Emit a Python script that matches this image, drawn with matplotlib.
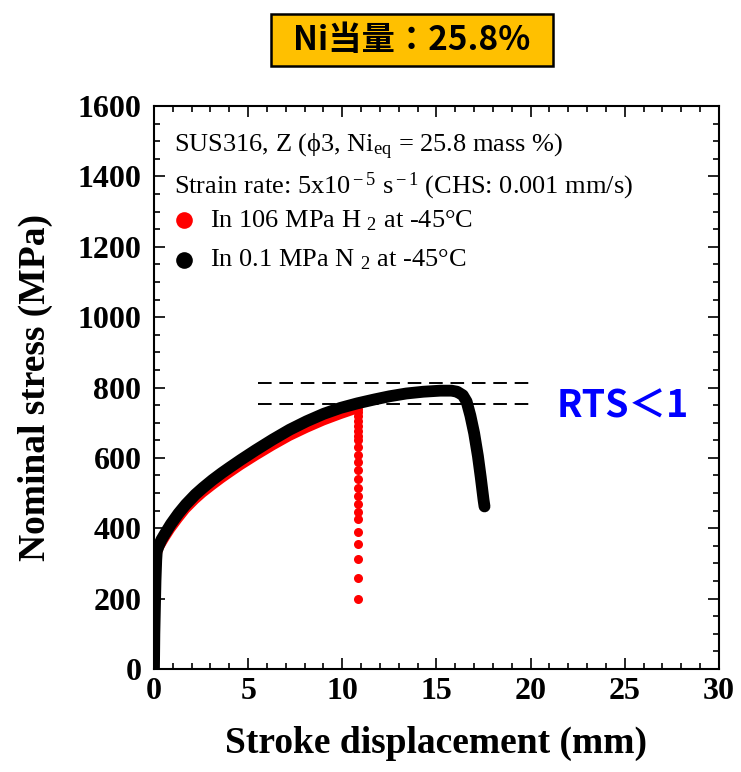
import matplotlib.pyplot as plt
from matplotlib.ticker import MultipleLocator
from matplotlib.patches import Rectangle

plt.rcParams['mathtext.fontset'] = 'custom'
plt.rcParams['mathtext.rm'] = 'Liberation Serif'
plt.rcParams['mathtext.it'] = 'Liberation Serif:italic'

# stress-stroke curves
n2_x = [0.0, 0.02, 0.08, 0.12, 0.15, 0.25, 0.4, 0.6, 0.9, 1.3, 1.7, 2.2, 2.6, 3.1, 3.6,
        4.0, 4.6, 5.4, 6.3, 7.2, 8.1, 9.0, 9.9, 10.8, 11.7, 12.5, 13.4, 14.3, 15.2, 15.8,
        16.1, 16.4, 16.6, 16.8, 17.0, 17.2, 17.35, 17.5, 17.55]
n2_y = [0, 100, 250, 310, 335, 350, 368, 386, 412, 442, 468, 496, 515, 537, 557,
        572, 594, 622, 652, 680, 704, 725, 742, 755, 766, 775, 783, 788, 791, 791,
        788, 778, 760, 720, 670, 605, 545, 480, 462]

h2_x = [0.05, 0.08, 0.1, 0.15, 0.3, 0.6, 0.9, 1.3, 1.7, 2.2, 2.6, 3.1, 3.6, 4.0, 4.6,
        5.4, 6.3, 7.2, 8.1, 9.0, 9.9, 10.5, 10.8]
h2_y = [0, 100, 250, 320, 345, 372, 397, 426, 453, 480, 499, 520, 540, 555, 577,
        604, 633, 660, 683, 704, 722, 733, 739]

# drop after fracture in H2
h2_drop_x = 10.83
h2_drop_y = [738, 730, 720, 705, 690, 675, 662, 650, 630, 608, 587, 565, 539, 515, 491,
             469, 447, 425, 390, 354, 313, 260, 198]

rts_lines = [812, 752]

fig = plt.figure(figsize=(7.41, 7.72), dpi=100)
ax = fig.add_axes([0.2078, 0.1334, 0.7625, 0.7293])

ax.plot(h2_x, h2_y, color='red', lw=6, solid_capstyle='round', solid_joinstyle='round', zorder=2)
ax.plot([h2_drop_x] * len(h2_drop_y), h2_drop_y, 'o', color='red', ms=6.5, mec='none', zorder=2)
ax.plot(n2_x, n2_y, color='black', lw=8.5, solid_capstyle='round', solid_joinstyle='round', zorder=3)

for yv in rts_lines:
    ax.plot([5.5, 20.3], [yv, yv], color='black', lw=1.4, dashes=(7, 4), zorder=1)

ax.set_xlim(0, 30)
ax.set_ylim(0, 1600)
ax.xaxis.set_major_locator(MultipleLocator(5))
ax.xaxis.set_minor_locator(MultipleLocator(1))
ax.yaxis.set_major_locator(MultipleLocator(200))
ax.yaxis.set_minor_locator(MultipleLocator(50))
ax.tick_params(which='both', direction='in', top=True, right=True, width=1.2)
ax.tick_params(which='major', length=8, labelsize=23)
ax.tick_params(axis='y', which='major', pad=9)
ax.tick_params(axis='x', which='major', pad=6)
ax.tick_params(which='minor', length=4)
for s in ax.spines.values():
    s.set_linewidth(1.5)
for lab in ax.get_xticklabels() + ax.get_yticklabels():
    lab.set_fontfamily('Liberation Serif')
    lab.set_fontweight('bold')

ax.set_xlabel('Stroke displacement (mm)', fontfamily='Liberation Serif', fontweight='bold',
              fontsize=27, labelpad=14)
ax.set_ylabel('Nominal stress (MPa)', fontfamily='Liberation Serif', fontweight='bold',
              fontsize=27, labelpad=18)

tf = dict(family=['Liberation Serif', 'DejaVu Serif'], fontsize=19, transform=ax.transAxes,
          va='center')
ax.text(0.035, 0.927, 'SUS316, Z (ϕ3, Ni$_{\\rm eq}$ = 25.8 mass %)', **tf)
ax.text(0.035, 0.858, 'Strain rate: 5x10$^{\\rm -5}$ s$^{\\rm -1}$ (CHS: 0.001 mm/s)', **tf)
ax.text(0.099, 0.797, 'In 106 MPa H $_{\\rm 2}$ at -45°C', **tf)
ax.text(0.099, 0.727, 'In 0.1 MPa N $_{\\rm 2}$ at -45°C', **tf)
ax.plot([0.053], [0.797], 'o', color='red', ms=12, mec='none', transform=ax.transAxes)
ax.plot([0.053], [0.727], 'o', color='black', ms=12, mec='none', transform=ax.transAxes)

ax.text(0.712, 0.467, 'RTS＜1', transform=ax.transAxes, color='#0000FF', fontsize=27,
        fontweight='bold', family=['Noto Sans CJK JP', 'DejaVu Sans'], va='center', ha='left')

fig.patches.append(Rectangle((0.3657, 0.9145), 0.3806, 0.0674, transform=fig.transFigure,
                             fc='#FFC000', ec='black', lw=1.8))
fig.text(0.556, 0.948, 'Ni当量：25.8%', ha='center', va='center', fontsize=24, fontweight='bold',
         family=['Noto Sans CJK JP', 'DejaVu Sans'])

fig.savefig('out.png', dpi=100)
